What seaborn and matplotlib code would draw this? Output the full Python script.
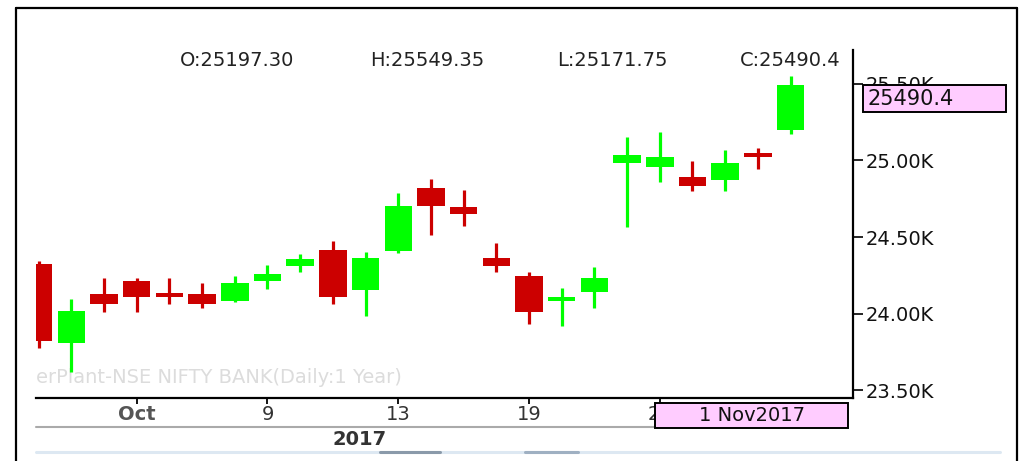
import matplotlib
matplotlib.use("Agg")
import matplotlib.pyplot as plt
import matplotlib.transforms as mtransforms
from matplotlib.patches import Rectangle
from matplotlib.lines import Line2D
import seaborn as sns
import numpy as np

# ---------------- data ----------------
dates = ["2017-09-27", "2017-09-28", "2017-09-29", "2017-10-03", "2017-10-04", "2017-10-05",
         "2017-10-06", "2017-10-09", "2017-10-10", "2017-10-11", "2017-10-12", "2017-10-13",
         "2017-10-16", "2017-10-17", "2017-10-18", "2017-10-19", "2017-10-23", "2017-10-24",
         "2017-10-25", "2017-10-26", "2017-10-27", "2017-10-30", "2017-10-31", "2017-11-01"]
opens = [24324, 23807, 24127, 24212, 24133, 24127, 24082, 24212, 24310, 24415, 24154, 24408,
         24820, 24696, 24363, 24245, 24085, 24141, 24984, 24958, 24892, 24873, 25046, 25197.30]
highs = [24345, 24095, 24232, 24232, 24232, 24199, 24245, 24317, 24389, 24474, 24402, 24788,
         24879, 24807, 24461, 24271, 24167, 24304, 25154, 25186, 24997, 25069, 25082, 25549.35]
lows = [23775, 23618, 24010, 24010, 24062, 24036, 24078, 24160, 24271, 24062, 23984, 24395,
        24513, 24572, 24271, 23931, 23918, 24036, 24565, 24859, 24801, 24801, 24944, 25171.75]
closes = [23820, 24016, 24062, 24108, 24110, 24062, 24199, 24258, 24356, 24108, 24363, 24703,
          24703, 24650, 24310, 24010, 24108, 24232, 25036, 25023, 24833, 24984, 25020, 25490.40]

xtick_idx = [3, 7, 11, 15, 19]
xtick_labels = ["Oct", "9", "13", "19", "26"]
ytick_vals = [23500, 24000, 24500, 25000, 25500]
ytick_labels = ["23.50K", "24.00K", "24.50K", "25.00K", "25.50K"]
ohlc_labels = ["O:25197.30", "H:25549.35", "L:25171.75", "C:25490.4"]
last_label = "1 Nov2017"
year_label = "2017"
watermark = "erPlant-NSE NIFTY BANK(Daily:1 Year)"

# ---------------- style ----------------
sns.set_theme(style="white")
plt.rcParams["font.family"] = ["DejaVu Sans"]

UP = "#00ff00"
DOWN = "#cc0000"

W, H = 1024, 461
fig = plt.figure(figsize=(W / 100, H / 100), dpi=100)
fig.patch.set_facecolor("white")
ax = fig.add_axes([36 / W, 63 / H, 817 / W, 348 / H])
ax.set_facecolor("white")

x = np.arange(len(dates))
o = np.array(opens); c = np.array(closes); hi = np.array(highs); lo = np.array(lows)
colors = [UP if cc >= oo else DOWN for oo, cc in zip(o, c)]

ax.vlines(x, lo, hi, colors=colors, linewidth=2.3, zorder=2)
ax.bar(x, c - o, bottom=o, width=0.84, color=colors, edgecolor="none", zorder=3)

ax.set_xlim(-0.08, 24.91)
ax.set_ylim(23448, 25722)

for s in ["top", "left"]:
    ax.spines[s].set_visible(False)
for s in ["right", "bottom"]:
    ax.spines[s].set_visible(True)
    ax.spines[s].set_color("black")
    ax.spines[s].set_linewidth(1.6)

ax.yaxis.tick_right()
ax.set_yticks(ytick_vals)
ax.set_yticklabels(ytick_labels)
ax.tick_params(axis="y", which="both", direction="out", length=7, width=1.2,
               color="black", pad=2, labelsize=14, labelcolor="#111111", right=True, left=False)
ax.set_xticks(xtick_idx)
ax.set_xticklabels(xtick_labels)
ax.tick_params(axis="x", direction="out", length=4, width=1.3, color="black",
               pad=1, labelsize=14, labelcolor="#333333", bottom=True)
for lab in ax.get_xticklabels():
    if lab.get_text() == "Oct":
        lab.set_fontweight("bold")
        lab.set_color("#555555")
ax.grid(False)

# watermark
ax.text(0.0, 0.06, watermark, transform=ax.transAxes, ha="left", va="center",
        fontsize=14, color="#dcdcdc", zorder=1)

# OHLC header
for lab, cx in zip(ohlc_labels, [237, 427, 612, 790]):
    fig.text(cx / W, 1 - 60 / H, lab, ha="center", va="center", fontsize=14, color="#222222")

# last close label box on the right axis
trans = mtransforms.blended_transform_factory(ax.transAxes, ax.transData)
px_per_unit = 348 / (25722 - 23448)
box_h = 27 / px_per_unit
ax.add_patch(Rectangle((1.0122, closes[-1] - box_h), 0.175, box_h, transform=trans,
                       facecolor="#ffccff", edgecolor="black", linewidth=1.4,
                       clip_on=False, zorder=10))
ax.text(1.0122 + 0.006, closes[-1] - box_h / 2, f"{closes[-1]:.1f}", transform=trans,
        ha="left", va="center", fontsize=15, color="#111111", clip_on=False, zorder=11)

# date label box under the axis
ax.add_patch(Rectangle((0.7577, -0.0862), 0.2362, 0.0718, transform=ax.transAxes,
                       facecolor="#ffccff", edgecolor="black", linewidth=1.4,
                       clip_on=False, zorder=10))
ax.text(0.7577 + 0.2362 / 2, -0.0862 + 0.0718 / 2, last_label, transform=ax.transAxes,
        ha="center", va="center", fontsize=14, color="#111111", clip_on=False, zorder=11)

# secondary year band
ax.add_artist(Line2D([0, 0.757], [-0.0845, -0.0845], transform=ax.transAxes,
                     color="#aaaaaa", linewidth=1.5, clip_on=False, zorder=5))
ax.text((360 - 36) / 817, (398 - 439) / 348, year_label, transform=ax.transAxes,
        ha="center", va="center", fontsize=14, fontweight="bold", color="#333333",
        clip_on=False)

# scrollbar strip
fig.add_artist(Line2D([36 / W, 1000 / W], [1 - 452 / H, 1 - 452 / H],
                      color="#dde8f2", linewidth=2.2))
fig.add_artist(Line2D([380 / W, 440 / W], [1 - 452 / H, 1 - 452 / H],
                      color="#8a9aaa", linewidth=2.2))
fig.add_artist(Line2D([525 / W, 578 / W], [1 - 452 / H, 1 - 452 / H],
                      color="#9fb0c2", linewidth=2.2))

# outer frame
fl = dict(color="black", linewidth=1.6)
fig.add_artist(Line2D([16 / W, 16 / W], [0, 1 - 8 / H], **fl))
fig.add_artist(Line2D([16 / W, 1017 / W], [1 - 8 / H, 1 - 8 / H], **fl))
fig.add_artist(Line2D([1017 / W, 1017 / W], [0, 1 - 8 / H], **fl))

fig.savefig("out.png", dpi=100, facecolor="white")
